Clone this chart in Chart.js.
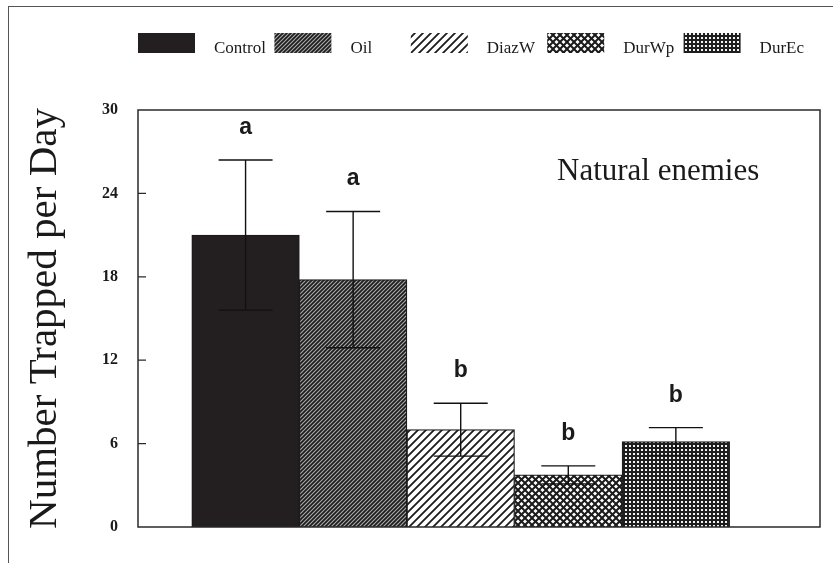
<!DOCTYPE html>
<html>
<head>
<meta charset="utf-8">
<script src="https://cdn.jsdelivr.net/npm/chart.js@4.4.1/dist/chart.umd.min.js"></script>
<style>
  body { margin: 0; background: #fff; }
  #wrap { position: relative; width: 833px; height: 563px; overflow: hidden; }
  #frame { position: absolute; left: 8px; top: 6px; width: 900px; height: 700px;
           border-left: 1.5px solid #555; border-top: 1.5px solid #555; pointer-events: none; }
</style>
</head>
<body>
<div id="wrap">
  <canvas id="chart" width="833" height="563"></canvas>
  <div id="frame"></div>
</div>
<script>
// data
const treatments = ['Control', 'Oil', 'DiazW', 'DurWp', 'DurEc'];
const means = [21.0, 17.8, 7.0, 3.75, 6.15];
const errors = [5.4, 4.9, 1.9, 0.65, 1.0];
const letters = ['a', 'a', 'b', 'b', 'b'];
const yTicks = [0, 6, 12, 18, 24, 30];
const yTitle = 'Number Trapped per Day';
const panelLabel = 'Natural enemies';

const canvas = document.getElementById('chart');
const ctx0 = canvas.getContext('2d');

// fill patterns for the bars (black & white print style)
function makePattern(size, draw) {
    const c = document.createElement('canvas');
    c.width = c.height = size;
    const g = c.getContext('2d');
    draw(g, size);
    return ctx0.createPattern(c, 'repeat');
}
function diag(g, s, up) {
    g.beginPath();
    if (up) {
        g.moveTo(-1, s + 1); g.lineTo(s + 1, -1);
        g.moveTo(-1, 1); g.lineTo(1, -1);
        g.moveTo(s - 1, s + 1); g.lineTo(s + 1, s - 1);
    } else {
        g.moveTo(-1, -1); g.lineTo(s + 1, s + 1);
        g.moveTo(-1, s - 1); g.lineTo(1, s + 1);
        g.moveTo(s - 1, -1); g.lineTo(s + 1, 1);
    }
    g.stroke();
}

const fills = [
    '#231f20',
    makePattern(4, (g, s) => {
        g.fillStyle = '#a8a8a8'; g.fillRect(0, 0, s, s);
        g.strokeStyle = '#1c1c1c'; g.lineWidth = 1.7; diag(g, s, true);
    }),
    makePattern(8, (g, s) => {
        g.fillStyle = '#fff'; g.fillRect(0, 0, s, s);
        g.strokeStyle = '#1c1c1c'; g.lineWidth = 1.8; diag(g, s, true);
    }),
    makePattern(7, (g, s) => {
        g.fillStyle = '#fff'; g.fillRect(0, 0, s, s);
        g.strokeStyle = '#1c1c1c'; g.lineWidth = 2; diag(g, s, true); diag(g, s, false);
    }),
    makePattern(4, (g, s) => {
        g.fillStyle = '#1e1e1e'; g.fillRect(0, 0, s, s);
        g.fillStyle = '#f4f4f4'; g.fillRect(1, 1, 2, 2);
    })
];

const decorations = {
    id: 'decorations',
    afterDatasetsDraw(chart) {
        const ctx = chart.ctx;
        const a = chart.chartArea;
        const y = chart.scales.y;
        const meta = chart.getDatasetMeta(0);
        ctx.save();

        // error bars + significance letters
        meta.data.forEach((bar, i) => {
            const top = y.getPixelForValue(means[i] + errors[i]);
            const bot = y.getPixelForValue(means[i] - errors[i]);
            ctx.strokeStyle = '#111';
            ctx.lineWidth = 1.4;
            ctx.beginPath();
            ctx.moveTo(bar.x, bot); ctx.lineTo(bar.x, top);
            ctx.moveTo(bar.x - 27, top); ctx.lineTo(bar.x + 27, top);
            ctx.moveTo(bar.x - 27, bot); ctx.lineTo(bar.x + 27, bot);
            ctx.stroke();

            ctx.fillStyle = '#1a1a1a';
            ctx.font = 'bold 23px "Liberation Sans", Arial, sans-serif';
            ctx.textAlign = 'center';
            ctx.textBaseline = 'alphabetic';
            ctx.fillText(letters[i], bar.x, top - 26);
        });

        // plot frame
        ctx.strokeStyle = '#2a2a2a';
        ctx.lineWidth = 1.5;
        ctx.strokeRect(a.left, a.top, a.width, a.height);

        // inward tick marks
        ctx.lineWidth = 1.2;
        ctx.beginPath();
        yTicks.slice(1, -1).forEach(v => {
            const py = y.getPixelForValue(v);
            ctx.moveTo(a.left, py); ctx.lineTo(a.left + 8, py);
        });
        ctx.stroke();

        // panel label
        ctx.fillStyle = '#1a1a1a';
        ctx.font = '31px "Liberation Serif", "Times New Roman", serif';
        ctx.textAlign = 'left';
        ctx.fillText(panelLabel, 557, 180);

        // legend in five equal columns above the plot
        const colW = a.width / treatments.length;
        ctx.font = '17px "Liberation Serif", "Times New Roman", serif';
        treatments.forEach((t, i) => {
            const x0 = a.left + i * colW;
            ctx.fillStyle = fills[i];
            ctx.fillRect(x0, 33, 57, 20);
            ctx.fillStyle = '#1a1a1a';
            ctx.fillText(t, x0 + 57 + 19, 53);
        });
        ctx.restore();
    }
};

new Chart(canvas, {
    type: 'bar',
    data: {
        datasets: [{
            label: 'Natural enemies',
            data: treatments.map((t, i) => ({ x: i, y: means[i] })),
            backgroundColor: fills,
            borderColor: '#1a1a1a',
            borderWidth: 1.2,
            barPercentage: 1,
            categoryPercentage: 1
        }]
    },
    options: {
        responsive: false,
        animation: false,
        layout: { padding: { top: 110, right: 13, left: 0, bottom: 0 } },
        plugins: {
            legend: { display: false },
            tooltip: { enabled: false }
        },
        scales: {
            x: {
                type: 'linear',
                offset: false,
                min: -1,
                max: 5.34,
                afterBuildTicks: s => { s.ticks = treatments.map((t, i) => ({ value: i })); },
                afterFit: s => { s.height = 36; },
                ticks: { display: false },
                grid: { display: false, offset: false },
                border: { display: false }
            },
            y: {
                min: 0,
                max: 30,
                afterBuildTicks: s => { s.ticks = yTicks.map(v => ({ value: v })); },
                afterFit: s => { s.width = 138; },
                ticks: {
                    padding: 20,
                    color: '#1a1a1a',
                    font: { family: '"Liberation Serif", "Times New Roman", serif', size: 16, weight: 'bold' }
                },
                grid: { display: false, drawTicks: false },
                border: { display: false },
                title: {
                    display: true,
                    text: yTitle,
                    color: '#1a1a1a',
                    padding: { top: 21, bottom: 0 },
                    font: { family: '"Liberation Serif", "Times New Roman", serif', size: 41, weight: 'normal' }
                }
            }
        }
    },
    plugins: [decorations]
});
</script>
</body>
</html>
